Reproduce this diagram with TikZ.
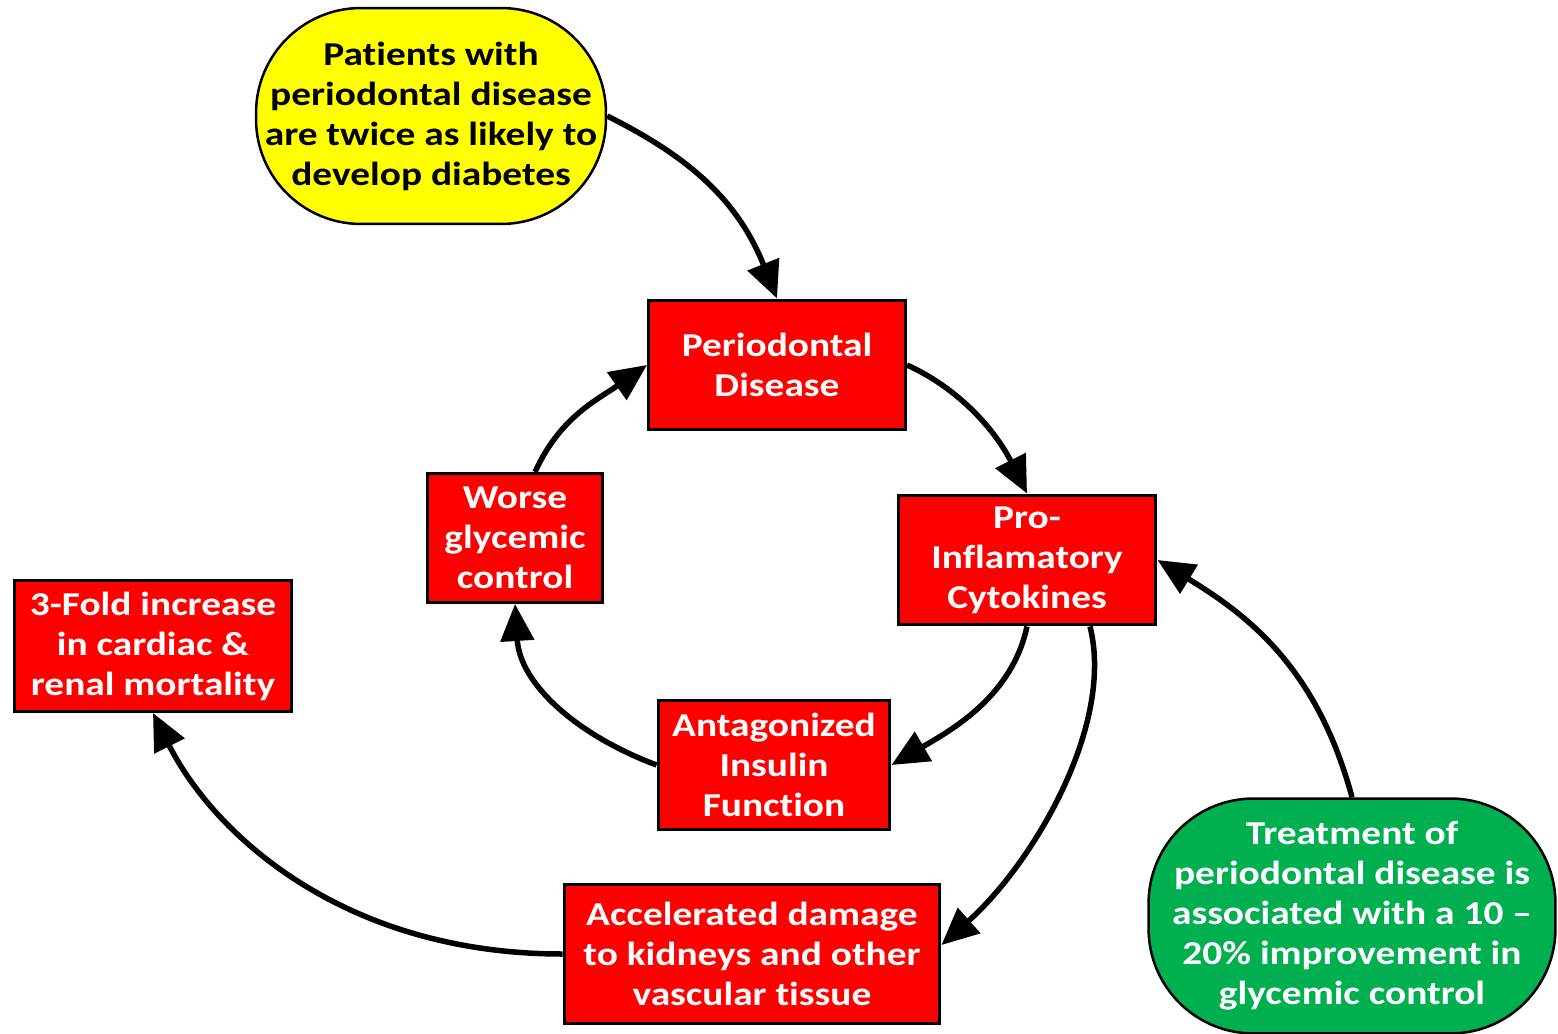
\documentclass[tikz,border=0pt]{standalone}
\usepackage{fontspec}
\setmainfont{Carlito}[FakeStretch=1.18,Ligatures=NoCommon]
\usetikzlibrary{arrows.meta,calc}
\definecolor{boxred}{HTML}{FF0000}
\definecolor{boxyellow}{HTML}{FFFF00}
\definecolor{boxgreen}{HTML}{00B050}
\tikzset{
  redbox/.style={draw=black, line width=0.06cm, fill=boxred, text=white,
    font=\fontsize{19}{22.76}\selectfont\bfseries, align=center, inner sep=0pt},
  roundbox/.style={draw=black, line width=0.05cm, rounded corners=2.1cm,
    font=\fontsize{19}{22.76}\selectfont\bfseries, align=center, inner sep=0pt},
  conn/.style={line width=0.11cm, -{Triangle[length=0.74cm,width=0.66cm]}}
}
\begin{document}
\begin{tikzpicture}[x=0.02cm,y=-0.02cm]
\useasboundingbox (0,0) rectangle (1558,1034);
\node[roundbox, fill=boxyellow, text=black, minimum width=7cm, minimum height=4.32cm] (pat) at (431,116)
  {Patients with\\periodontal disease\\are twice as likely to\\develop diabetes};
\node[roundbox, fill=boxgreen, text=white, minimum width=8.14cm, minimum height=4.7cm] (trt) at (1352,916)
  {Treatment of\\periodontal disease is\\associated with a 10 –\\20\% improvement in\\glycemic control};
\node[redbox, minimum width=5.14cm, minimum height=2.6cm] (pd) at (777,365) {Periodontal\\Disease};
\node[redbox, minimum width=5.16cm, minimum height=2.6cm] (pic) at (1027,560) {Pro-\\Inflamatory\\Cytokines};
\node[redbox, minimum width=3.52cm, minimum height=2.58cm] (wgc) at (515,538) {Worse\\glycemic\\control};
\node[redbox, minimum width=4.64cm, minimum height=2.6cm] (aif) at (774,765) {Antagonized\\Insulin\\Function};
\node[redbox, minimum width=7.52cm, minimum height=2.8cm] (ad) at (752,954) {Accelerated damage\\to kidneys and other\\vascular tissue};
\node[redbox, minimum width=5.56cm, minimum height=2.62cm] (tf) at (153,646) {3-Fold increase\\in cardiac \&\\renal mortality};

\draw[conn] (pat.east) .. controls +(80,40) and +(-40,-100) .. (pd.north);
\draw[conn] (pd.east) .. controls +(55,25) and +(-30,-60) .. (pic.north);
\draw[conn] (pic.south) .. controls +(-15,70) and +(60,-35) .. (aif.east);
\draw[conn] (aif.west) .. controls +(-80,-30) and +(5,80) .. (wgc.south);
\draw[conn] ($(wgc.north)+(20,0)$) .. controls +(25,-55) and +(-50,35) .. (pd.west);
\draw[conn] ($(pic.south)+(63,0)$) .. controls +(25,100) and +(90,-80) .. ($(ad.east)+(0,-9)$);
\draw[conn] (ad.west) .. controls +(-220,0) and +(60,120) .. (tf.south);
\draw[conn] (trt.north) .. controls +(-35,-130) and +(90,55) .. (pic.east);
\end{tikzpicture}
\end{document}
